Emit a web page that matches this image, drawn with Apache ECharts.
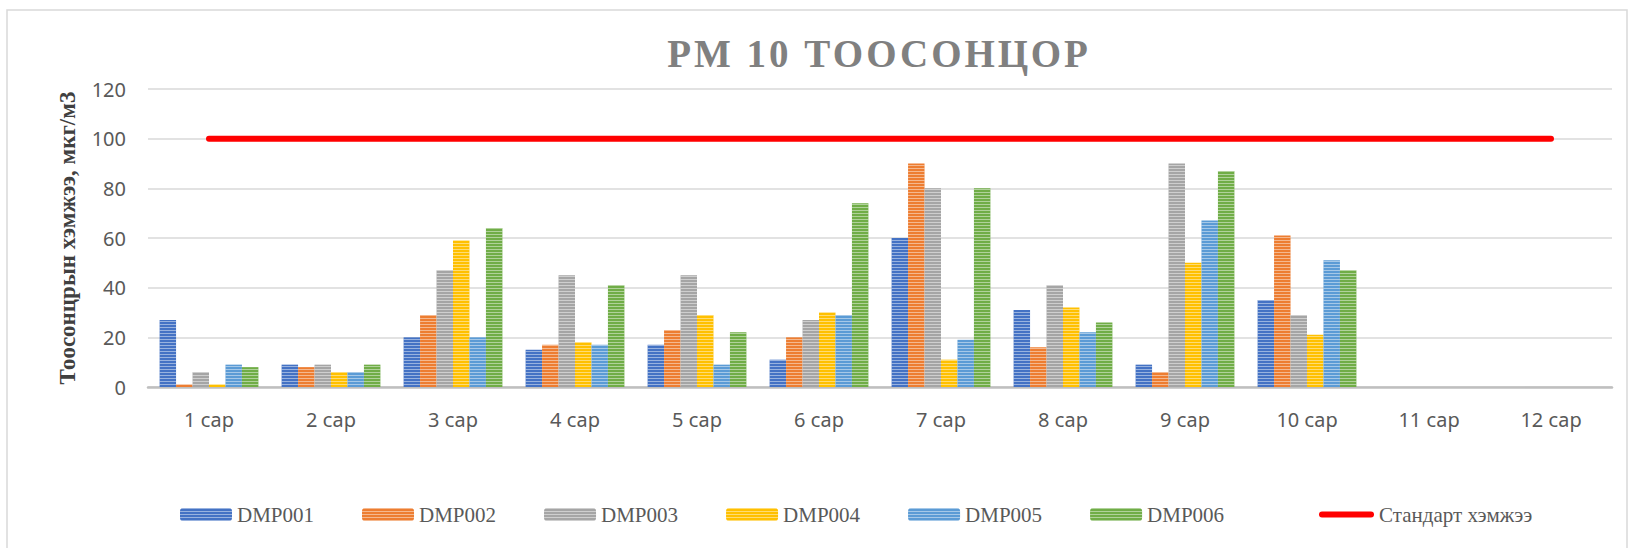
<!DOCTYPE html>
<html>
<head>
<meta charset="utf-8">
<title>PM 10 ТООСОНЦОР</title>
<style>
	html, body {
		margin: 0;
		padding: 0;
		background: #fff;
	}
	#chart {
		width: 1633px;
		height: 548px;
	}
</style>
</head>
<body>
<div id="chart"></div>

<!-- echarts -->
<script src="https://cdn.jsdelivr.net/npm/echarts@6/dist/echarts.min.js"></script>

<script type="text/javascript">
	// 月份
	var months = ['1 сар', '2 сар', '3 сар', '4 сар', '5 сар', '6 сар',
		'7 сар', '8 сар', '9 сар', '10 сар', '11 сар', '12 сар'];

	// 各站点数值（11、12 月无数据）
	var dmp001 = [27, 9, 20, 15, 17, 11, 60, 31, 9, 35, null, null];
	var dmp002 = [1, 8, 29, 17, 23, 20, 90, 16, 6, 61, null, null];
	var dmp003 = [6, 9, 47, 45, 45, 27, 80, 41, 90, 29, null, null];
	var dmp004 = [1, 6, 59, 18, 29, 30, 11, 32, 50, 21, null, null];
	var dmp005 = [9, 6, 20, 17, 9, 29, 19, 22, 67, 51, null, null];
	var dmp006 = [8, 9, 64, 41, 22, 74, 80, 26, 87, 47, null, null];

	// 标准值
	var standard = [100, 100, 100, 100, 100, 100, 100, 100, 100, 100, 100, 100];

	var yTicks = { min: 0, max: 120, interval: 20 };

	var titleText = 'PM 10 ТООСОНЦОР';
	var standardName = 'Стандарт хэмжээ';

	var stations = [
		{ name: 'DMP001', data: dmp001, color: '#4472C4' },
		{ name: 'DMP002', data: dmp002, color: '#ED7D31' },
		{ name: 'DMP003', data: dmp003, color: '#A5A5A5' },
		{ name: 'DMP004', data: dmp004, color: '#FFC000' },
		{ name: 'DMP005', data: dmp005, color: '#5B9BD5' },
		{ name: 'DMP006', data: dmp006, color: '#70AD47' }
	];

	// 横条纹
	var stripe = {
		symbol: 'rect',
		symbolSize: 1,
		dashArrayX: [1, 0],
		dashArrayY: [1, 2],
		rotation: 0,
		color: 'rgba(255,255,255,0.45)'
	};

	var series = stations.map(function (s) {
		return {
			name: s.name,
			type: 'bar',
			data: s.data,
			barGap: '0%',
			barCategoryGap: '19%',
			itemStyle: { color: s.color, decal: stripe }
		};
	});
	series.push({
		name: standardName,
		type: 'line',
		data: standard,
		symbol: 'none',
		lineStyle: { color: '#FF0000', width: 6, cap: 'round' },
		itemStyle: { color: '#FF0000' }
	});

	var legendText = {
		fontFamily: 'Liberation Serif',
		fontSize: 21,
		color: '#595959'
	};

	var option = {
		animation: false,
		title: {
			text: titleText,
			left: 874,
			top: 29,
			textAlign: 'center',
			textStyle: {
				fontFamily: 'Liberation Serif',
				fontWeight: 'bold',
				fontSize: 39,
				color: '#808080'
			}
		},
		// 图例分两段：站点 + 标准线
		legend: [{
			data: stations.map(function (s) { return s.name; }),
			left: 175,
			top: 499,
			itemWidth: 52,
			itemHeight: 13,
			itemGap: 48,
			textStyle: legendText
		}, {
			data: [{
				name: standardName,
				icon: 'path://M3,0 H52 A3,3 0 0 1 52,6 H3 A3,3 0 0 1 3,0 Z'
			}],
			left: 1314,
			top: 499,
			itemWidth: 55,
			itemHeight: 13,
			textStyle: legendText
		}],
		grid: { left: 148, right: 21, top: 89, bottom: 161 },
		xAxis: {
			type: 'category',
			data: months,
			axisLine: { lineStyle: { color: '#BFBFBF', width: 2.5 } },
			axisTick: { show: false },
			axisLabel: {
				margin: 22,
				fontFamily: 'Noto Sans',
				fontSize: 20,
				color: '#595959'
			}
		},
		yAxis: {
			type: 'value',
			min: yTicks.min,
			max: yTicks.max,
			interval: yTicks.interval,
			name: 'Тоосонцрын хэмжээ, мкг/м3',
			nameLocation: 'middle',
			nameGap: 69,
			nameTextStyle: {
				fontFamily: 'Liberation Serif',
				fontWeight: 'bold',
				fontSize: 23,
				color: '#404040'
			},
			axisLabel: {
				margin: 22,
				fontFamily: 'Noto Sans',
				fontSize: 20,
				color: '#595959'
			},
			splitLine: { lineStyle: { color: '#D9D9D9', width: 1.5 } }
		},
		// 外边框
		graphic: [{
			type: 'rect',
			shape: { x: 7, y: 10, width: 1620, height: 560 },
			style: { fill: 'none', stroke: '#D9D9D9', lineWidth: 1.5 },
			silent: true
		}],
		series: series
	};

	var dom = document.getElementById('chart');
	var chart = echarts.init(dom, null, { renderer: 'svg' });
	chart.setOption(option);

	// 标题字间距
	var texts = dom.querySelectorAll('text');
	for (var i = 0; i < texts.length; i++) {
		if (texts[i].textContent === titleText) {
			texts[i].setAttribute('letter-spacing', '3');
		}
	}
</script>
</body>
</html>
